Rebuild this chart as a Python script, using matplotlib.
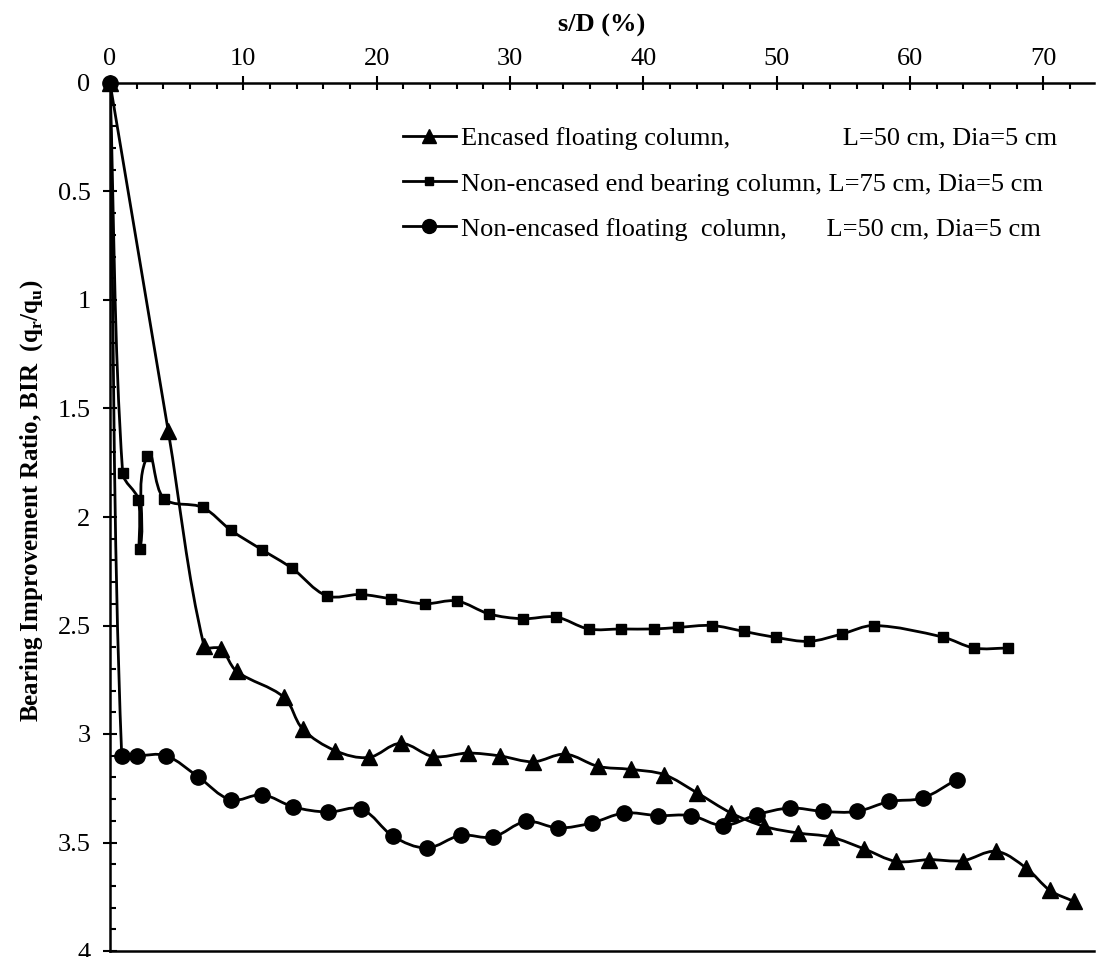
import matplotlib.pyplot as plt
import numpy as np
from matplotlib.path import Path
from matplotlib.patches import PathPatch
from matplotlib.lines import Line2D
from matplotlib.ticker import MultipleLocator, FuncFormatter

plt.rcParams['font.family'] = ['Liberation Serif', 'DejaVu Serif']

# encased floating column, L=50 cm
enc_x = [0, 4.37, 7.05, 8.3, 9.5, 13.05, 14.45, 16.9, 19.4, 21.8, 24.25, 26.85, 29.25,
         31.75, 34.15, 36.6, 39.05, 41.55, 44.0, 46.58, 49.08, 51.58, 54.08, 56.58,
         58.96, 61.46, 63.96, 66.46, 68.72, 70.5, 72.27]
enc_y = [0, 1.605, 2.593, 2.607, 2.711, 2.831, 2.977, 3.077, 3.108, 3.043, 3.104, 3.088,
         3.101, 3.128, 3.093, 3.149, 3.163, 3.187, 3.27, 3.364, 3.426, 3.456, 3.475,
         3.53, 3.587, 3.579, 3.584, 3.541, 3.618, 3.721, 3.771]

# non-encased end bearing column, L=75 cm
end_x = [0, 0.95, 2.13, 2.25, 2.8, 4.05, 6.95, 9.05, 11.37, 13.67, 16.25, 18.8, 21.1,
         23.6, 26.0, 28.45, 30.95, 33.45, 35.9, 38.33, 40.78, 42.58, 45.13, 47.53,
         49.95, 52.45, 54.9, 57.33, 62.45, 64.82, 67.33]
end_y = [0, 1.797, 1.92, 2.147, 1.72, 1.915, 1.956, 2.06, 2.15, 2.237, 2.363, 2.357,
         2.377, 2.40, 2.387, 2.447, 2.469, 2.461, 2.516, 2.516, 2.516, 2.509, 2.50,
         2.527, 2.555, 2.573, 2.539, 2.50, 2.553, 2.604, 2.604]

# non-encased floating column, L=50 cm
flo_x = [0, 0.88, 2.05, 4.2, 6.63, 9.05, 11.43, 13.75, 16.37, 18.85, 21.25, 23.75,
         26.3, 28.7, 31.2, 33.63, 36.13, 38.55, 41.08, 43.58, 46.0, 48.5, 51.0, 53.5,
         56.0, 58.45, 60.95, 63.5]
flo_y = [0, 3.1, 3.1, 3.1, 3.198, 3.303, 3.28, 3.336, 3.36, 3.346, 3.472, 3.525,
         3.467, 3.475, 3.403, 3.433, 3.41, 3.364, 3.376, 3.376, 3.422, 3.372, 3.341,
         3.357, 3.357, 3.311, 3.295, 3.21]

labels = ['Encased floating column,                 L=50 cm, Dia=5 cm',
          'Non-encased end bearing column, L=75 cm, Dia=5 cm',
          'Non-encased floating  column,      L=50 cm, Dia=5 cm']


def smooth_path(ax, x, y):
    # excel-like smoothed line, built in screen space so the bends look right
    pts = ax.transData.transform(np.column_stack([x, y]))
    n = len(pts)

    def unit(v):
        d = np.hypot(*v)
        return v / d if d > 0 else v

    verts = [pts[0]]
    codes = [Path.MOVETO]
    for i in range(n - 1):
        p1, p2 = pts[i], pts[i + 1]
        seg = np.hypot(*(p2 - p1)) / 3
        t1 = unit(p2 - pts[i - 1]) if i > 0 else unit(p2 - p1)
        t2 = unit(pts[i + 2] - p1) if i + 2 < n else unit(p2 - p1)
        verts += [p1 + t1 * seg, p2 - t2 * seg, p2]
        codes += [Path.CURVE4] * 3
    verts = ax.transData.inverted().transform(np.array(verts))
    return Path(verts, codes)


fig = plt.figure(figsize=(10.96, 9.57), dpi=100)
ax = fig.add_axes([110 / 1096, 6 / 957, 984 / 1096, 868 / 957])
ax.set_xlim(0, 73.8)
ax.set_ylim(4, 0)

lw = 2.0
series = [(enc_x, enc_y, '^', 11), (end_x, end_y, 's', 7), (flo_x, flo_y, 'o', 11)]
handles = []
for (x, y, m, ms), lab in zip(series, labels):
    ax.add_patch(PathPatch(smooth_path(ax, x, y), facecolor='none', edgecolor='k', lw=lw, zorder=2))
    ax.plot(x, y, ls='none', marker=m, ms=ms, color='k', zorder=3, clip_on=False)
    handles.append(Line2D([], [], color='k', lw=lw, marker=m, ms=ms - 1))

ax.xaxis.tick_top()
ax.xaxis.set_label_position('top')
ax.xaxis.set_major_locator(MultipleLocator(10))
ax.xaxis.set_minor_locator(MultipleLocator(2))
ax.yaxis.set_major_locator(MultipleLocator(0.5))
ax.yaxis.set_minor_locator(MultipleLocator(0.1))
ax.yaxis.set_major_formatter(FuncFormatter(lambda v, p: f'{v:g}'))

ax.tick_params(which='major', direction='inout', length=10, width=1.5, labelsize=19)
ax.tick_params(axis='x', which='major', pad=4)
ax.tick_params(axis='y', which='major', pad=9)
ax.tick_params(which='minor', direction='in', length=4.5, width=1.5)
for s in ['top', 'left', 'bottom']:
    ax.spines[s].set_linewidth(1.8)
ax.spines['right'].set_visible(False)

ax.set_xlabel('s/D (%)', fontsize=19, fontweight='bold', labelpad=12)
ax.set_ylabel(r'Bearing Improvement Ratio, BIR  (q$_\mathregular{r}$/q$_\mathregular{u}$)',
              fontsize=18, fontweight='bold')
ax.yaxis.set_label_coords(-0.066, 0.519)

ax.legend(handles, labels, loc='upper left', bbox_to_anchor=(403 / 1096, 1 - 127 / 957),
          bbox_transform=fig.transFigure, frameon=False, fontsize=19, borderpad=0,
          borderaxespad=0, handlelength=2.0, handletextpad=0.2, labelspacing=0.82)

fig.savefig('out.png', dpi=100)
